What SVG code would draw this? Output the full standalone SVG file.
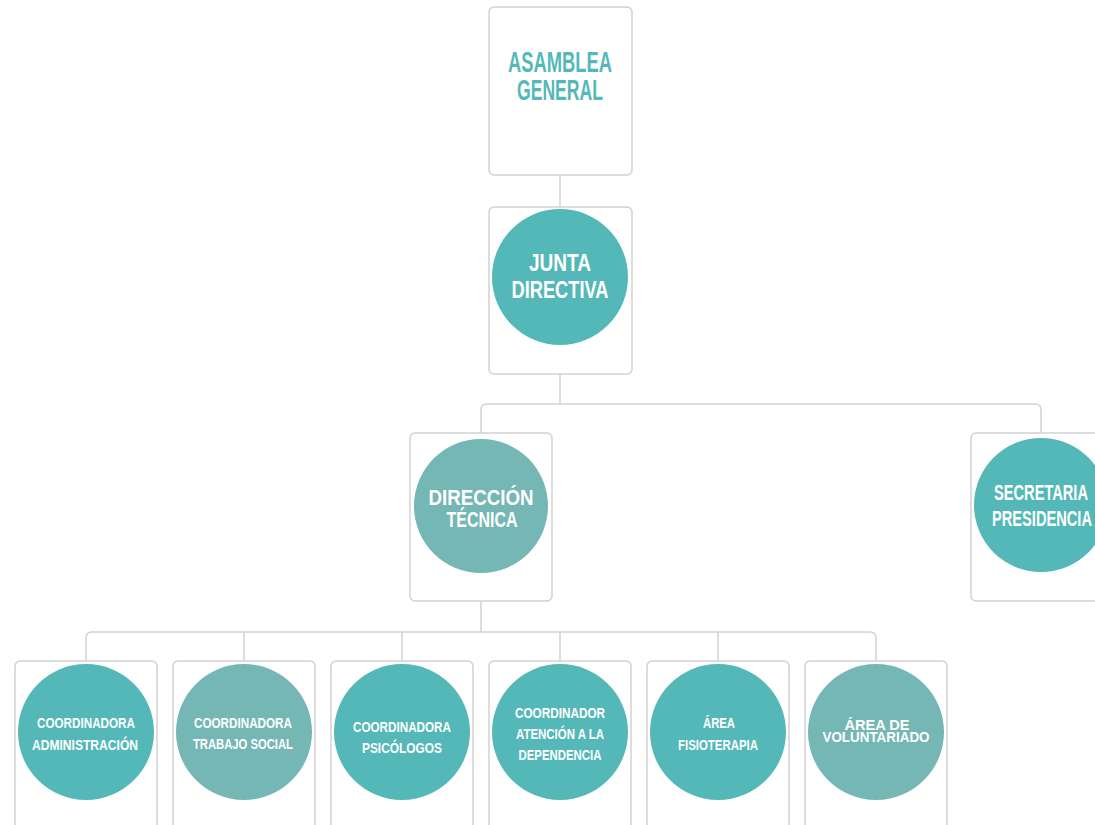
<svg xmlns="http://www.w3.org/2000/svg" width="1095" height="825" viewBox="0 0 1095 825">
<style>
.box{fill:#fff;stroke:#d2d2d2;stroke-width:1.5}
.c1{fill:#55b8b8}
.c2{fill:#74b7b4}
.ln{fill:none;stroke:#d2d2d2;stroke-width:1.5}
text{font-family:"Liberation Sans","DejaVu Sans",sans-serif;text-anchor:middle;fill:#fff;font-weight:bold}
.t0{fill:#55b8b8;font-size:29px}
.t1{font-size:24px}
.t2{font-size:22px}
.t3{font-size:15px}
</style>
<rect width="1095" height="825" fill="#fff"/>
<g id="connectors">
<line class="ln" x1="560" y1="175" x2="560" y2="207"/>
<line class="ln" x1="560" y1="374" x2="560" y2="404"/>
<path class="ln" d="M481 433 V410 Q481 404 487 404 H1035 Q1041 404 1041 410 V433"/>
<line class="ln" x1="481" y1="601" x2="481" y2="632"/>
<path class="ln" d="M86 661 V638 Q86 632 92 632 H870 Q876 632 876 638 V661"/>
<line class="ln" x1="244" y1="632" x2="244" y2="661"/>
<line class="ln" x1="402" y1="632" x2="402" y2="661"/>
<line class="ln" x1="560" y1="632" x2="560" y2="661"/>
<line class="ln" x1="718" y1="632" x2="718" y2="661"/>
</g>
<g id="asamblea">
<rect class="box" x="489" y="7" width="143" height="168" rx="5"/>
<text class="t0" x="560" y="72" textLength="104" lengthAdjust="spacingAndGlyphs">ASAMBLEA</text>
<text class="t0" x="560" y="100" textLength="86" lengthAdjust="spacingAndGlyphs">GENERAL</text>
</g>
<g id="junta">
<rect class="box" x="489" y="207" width="143" height="167" rx="5"/>
<circle class="c1" cx="560" cy="277" r="68"/>
<text class="t1" x="560" y="271" textLength="62" lengthAdjust="spacingAndGlyphs">JUNTA</text>
<text class="t1" x="560" y="298" textLength="97" lengthAdjust="spacingAndGlyphs">DIRECTIVA</text>
</g>
<g id="direccion">
<rect class="box" x="410" y="433" width="142" height="168" rx="5"/>
<circle class="c2" cx="481" cy="506" r="67"/>
<text class="t2" x="481" y="505" textLength="105" lengthAdjust="spacingAndGlyphs">DIRECCIÓN</text>
<text class="t2" x="482" y="527" textLength="71" lengthAdjust="spacingAndGlyphs">TÉCNICA</text>
</g>
<g id="secretaria">
<rect class="box" x="971" y="433" width="140" height="168" rx="5"/>
<circle class="c1" cx="1041" cy="505" r="67"/>
<text class="t2" x="1041" y="500" textLength="94" lengthAdjust="spacingAndGlyphs">SECRETARIA</text>
<text class="t2" x="1042" y="526" textLength="100" lengthAdjust="spacingAndGlyphs">PRESIDENCIA</text>
</g>
<g id="administracion">
<rect class="box" x="15" y="661" width="142" height="180" rx="5"/>
<circle class="c1" cx="86" cy="732" r="68"/>
<text class="t3" x="86" y="728" textLength="98" lengthAdjust="spacingAndGlyphs">COORDINADORA</text>
<text class="t3" x="85" y="750" textLength="106" lengthAdjust="spacingAndGlyphs">ADMINISTRACIÓN</text>
</g>
<g id="trabajo">
<rect class="box" x="173" y="661" width="142" height="180" rx="5"/>
<circle class="c2" cx="244" cy="732" r="68"/>
<text class="t3" x="243" y="728" textLength="98" lengthAdjust="spacingAndGlyphs">COORDINADORA</text>
<text class="t3" x="243" y="749" textLength="100" lengthAdjust="spacingAndGlyphs">TRABAJO SOCIAL</text>
</g>
<g id="psicologos">
<rect class="box" x="331" y="661" width="142" height="180" rx="5"/>
<circle class="c1" cx="402" cy="732" r="68"/>
<text class="t3" x="402" y="732" textLength="98" lengthAdjust="spacingAndGlyphs">COORDINADORA</text>
<text class="t3" x="402" y="753" textLength="80" lengthAdjust="spacingAndGlyphs">PSICÓLOGOS</text>
</g>
<g id="dependencia">
<rect class="box" x="489" y="661" width="142" height="180" rx="5"/>
<circle class="c1" cx="560" cy="732" r="68"/>
<text class="t3" x="560" y="718" textLength="90" lengthAdjust="spacingAndGlyphs">COORDINADOR</text>
<text class="t3" x="560" y="739" textLength="88" lengthAdjust="spacingAndGlyphs">ATENCIÓN A LA</text>
<text class="t3" x="560" y="760" textLength="83" lengthAdjust="spacingAndGlyphs">DEPENDENCIA</text>
</g>
<g id="fisioterapia">
<rect class="box" x="647" y="661" width="142" height="180" rx="5"/>
<circle class="c1" cx="718" cy="732" r="68"/>
<text class="t3" x="719" y="728" textLength="32" lengthAdjust="spacingAndGlyphs">ÁREA</text>
<text class="t3" x="718" y="750" textLength="80" lengthAdjust="spacingAndGlyphs">FISIOTERAPIA</text>
</g>
<g id="voluntariado">
<rect class="box" x="805" y="661" width="142" height="180" rx="5"/>
<circle class="c2" cx="876" cy="732" r="68"/>
<text class="t3" x="877" y="730" textLength="65" lengthAdjust="spacingAndGlyphs">ÁREA DE</text>
<text class="t3" x="876" y="742" textLength="107" lengthAdjust="spacingAndGlyphs">VOLUNTARIADO</text>
</g>
</svg>
